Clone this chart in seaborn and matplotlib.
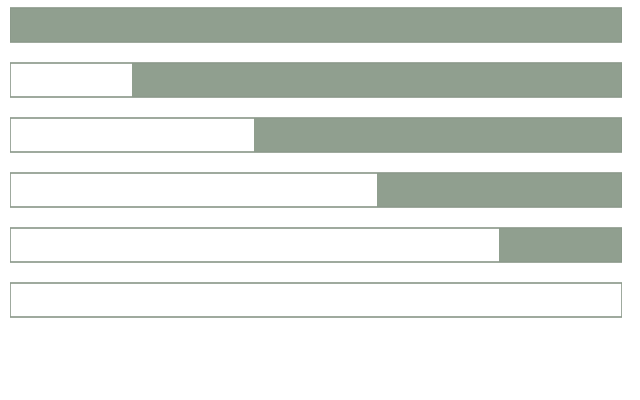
import matplotlib
matplotlib.use("Agg")
import matplotlib.pyplot as plt
import seaborn as sns
import pandas as pd

# progress rows, filled share (percent) shown from the right
rows = ["r1", "r2", "r3", "r4", "r5", "r6"]
filled = [100, 80, 60, 40, 20, 0]
total = [100, 100, 100, 100, 100, 100]

GREEN = "#909f8f"
EDGE = "#8c9a8b"

df = pd.DataFrame({"row": rows, "filled": filled, "total": total})
df["empty"] = df["total"] - df["filled"]

sns.set_style("white")
fig = plt.figure(figsize=(6.4, 4), dpi=100)
ax = fig.add_axes([9.5 / 640, 0, 612 / 640, 1])

# full track in green, empty part in white, then an outline round each track
sns.barplot(data=df, x="total", y="row", color=GREEN, width=0.62,
            saturation=1, linewidth=0, ax=ax)
sns.barplot(data=df, x="empty", y="row", color="white", width=0.62,
            saturation=1, linewidth=0, ax=ax)
sns.barplot(data=df, x="total", y="row", fill=False, width=0.62,
            edgecolor=EDGE, linewidth=1.2, ax=ax)

ax.set_xlim(0, 100)
ax.set_ylim(375 / 55, -25 / 55)
ax.set_axis_off()

fig.savefig("out.png", dpi=100)
